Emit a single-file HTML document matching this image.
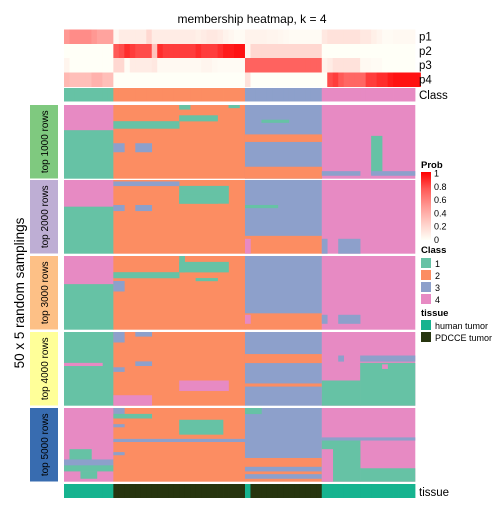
<!DOCTYPE html>
<html><head><meta charset="utf-8">
<style>
body{margin:0;background:#fff;font-family:"Liberation Sans",sans-serif;}
svg text{font-family:"Liberation Sans",sans-serif;}
</style></head>
<body>
<svg id="chart" width="504" height="504" xmlns="http://www.w3.org/2000/svg">
<text x="252" y="23" font-size="12" text-anchor="middle">membership heatmap, k = 4</text>
<g id="topg"></g><g id="blocks"></g><g id="legend"></g>
</svg>
<script>
// ---- data ----
const classColors = {1:"#66C2A5",2:"#FC8D62",3:"#8DA0CB",4:"#E78AC3"};
const colClass = [1,1,1,1,1,1,1,1,1, 2,2,2,2,2,2,2,2,2,2,2,2,2,2,2,2,2,2,2,2,2,2,2,2, 3,3,3,3,3,3,3,3,3,3,3,3,3,3, 4,4,4,4,4,4,4,4,4,4,4,4,4,4,4,4,4];
const p1 = [0.5,0.55,0.55,0.55,0.55,0.5,0.45,0.45,0.45, 0.04,0.1,0.1,0.1,0.1,0.1,0.2,0.1,0.1,0.1,0.1,0.1,0.1,0.1,0.1,0.08,0.1,0.12,0.12,0.1,0.06,0.04,0.02,0.02, 0.06,0.06,0.06,0.06,0.05,0.05,0.04,0.03,0.02,0.02,0.02,0.02,0.02,0.02, 0.12,0.15,0.15,0.15,0.15,0.15,0.15,0.12,0.12,0.08,0.05,0.02,0.02,0.03,0.03,0.03,0.03];
const p2 = [0,0,0,0,0,0,0,0,0, 0.75,0.8,0.9,0.85,0.8,0.8,0.8,0.3,0.9,0.85,0.85,0.85,0.85,0.85,0.85,0.9,0.85,0.85,0.85,0.9,0.95,0.95,0.97,0.97, 0.05,0.2,0.2,0.2,0.2,0.2,0.2,0.2,0.2,0.2,0.2,0.2,0.2,0.2, 0,0,0,0,0,0,0,0,0,0,0,0,0,0,0,0,0];
const p3 = [0.05,0,0,0,0,0,0,0,0, 0.2,0.2,0.02,0.1,0.1,0.1,0.1,0.12,0.03,0.03,0.03,0.03,0.03,0.03,0.03,0.03,0.05,0.05,0.03,0.02,0.02,0.02,0.02,0.02, 0.72,0.72,0.72,0.72,0.72,0.72,0.72,0.72,0.72,0.72,0.72,0.72,0.72,0.72, 0.06,0.1,0.15,0.15,0.15,0.15,0.15,0.03,0.03,0.02,0.02,0,0,0,0,0,0];
const p4 = [0.35,0.32,0.32,0.32,0.32,0.38,0.38,0.32,0.32, 0,0,0,0,0,0,0,0,0,0,0,0,0,0,0,0,0,0,0,0,0,0,0,0, 0.15,0,0,0,0,0,0,0,0,0,0,0,0,0,0, 0.8,0.85,0.75,0.7,0.7,0.7,0.7,0.85,0.85,0.9,0.9,0.95,0.97,0.97,0.97,0.97,0.97];
const tissue = [1,1,1,1,1,1,1,1,1, 2,2,2,2,2,2,2,2,2,2,2,2,2,2,2,2,2,2,2,2,2,2,2,2, 1,2,2,2,2,2,2,2,2,2,2,2,2,2, 1,1,1,1,1,1,1,1,1,1,1,1,1,1,1,1,1];
const blockLabels = ["top 1000 rows","top 2000 rows","top 3000 rows","top 4000 rows","top 5000 rows"];
const blockColors = ["#7FC97F","#BEAED4","#FDC086","#FFFF99","#386CB0"];
// patches: [colStart, colEnd, rowStart, rowEnd, class] (inclusive, 64 cols x 50 rows)
const block1 = [[0,8,0,49,1],[0,8,0,16,4],[9,32,0,49,2],[33,46,0,49,3],[47,63,0,49,4],
 [33,46,20,24,2],[33,46,42,49,2],[9,20,11,15,1],[21,27,7,10,1],[9,10,26,31,3],[13,15,26,31,3],[21,22,0,2,1],[30,31,0,1,1],[47,53,45,47,3],[56,57,21,46,1],[56,63,45,47,3],[36,40,10,11,1]];
const block2 = [[0,8,0,49,1],[0,8,0,17,4],[9,32,0,49,2],[33,46,0,37,3],[33,46,38,49,2],[47,63,0,49,4],
 [9,20,1,3,3],[21,29,4,15,1],[21,27,10,15,1],[9,10,17,20,3],[13,15,17,20,3],[33,38,17,18,1],[47,47,40,49,3],[50,53,40,49,3],[33,33,40,49,4]];
const block3 = [[0,8,0,49,1],[0,8,0,18,4],[9,32,0,49,2],[33,46,0,38,3],[33,46,39,49,2],[47,63,0,49,4],
 [9,20,11,14,1],[9,10,17,23,3],[21,29,4,10,1],[24,27,15,16,1],[47,47,40,45,3],[50,53,40,45,3],[33,33,40,45,4],[21,21,0,10,1]];
const block4 = [[0,8,0,49,1],[0,6,21,22,4],[9,32,0,49,2],[9,10,0,6,3],[13,15,0,2,3],[21,29,33,39,4],[9,10,24,26,3],[13,15,20,22,3],[9,15,43,49,4],
 [33,46,0,49,3],[33,46,15,20,2],[33,46,35,36,2],[47,63,0,49,4],[54,63,16,19,3],[54,63,21,49,1],[47,53,33,49,1],[50,50,16,19,3],[58,58,22,24,4]];
const block5 = [[0,8,0,49,4],[1,4,28,35,1],[0,8,35,38,3],[0,8,39,42,1],[3,5,43,47,1],[9,32,0,49,2],[9,10,0,3,3],[9,15,4,6,1],[21,28,8,17,1],[9,10,11,12,3],[9,32,21,22,3],[9,10,30,31,3],
 [33,46,0,33,3],[33,46,34,49,2],[33,46,40,42,3],[33,46,45,47,3],[33,35,0,3,1],[47,63,0,49,4],[47,53,21,49,1],[47,48,28,49,4],[54,63,41,49,1],[47,63,20,21,3]];
const blocks = [block1,block2,block3,block4,block5];
// ---- scales ----
const X0=64, X1=415, NC=colClass.length, NR=50;
const cw=(X1-X0)/NC;
const xs=c=>X0+c*cw;
const blockY=[105,180,256,332,408], blockH=73.5;
const ys=(b,r)=>blockY[b]+r*blockH/NR;
const NS="http://www.w3.org/2000/svg";
function mk(tag,attrs,parent){const e=document.createElementNS(NS,tag);for(const k in attrs)e.setAttribute(k,attrs[k]);parent.appendChild(e);return e;}
function probColor(p){const t=Math.pow(1-p,0.75);const g=Math.round(255*t),b=Math.round(255*t*0.97);return `rgb(255,${Math.min(255,g)},${Math.min(255,b)})`;}
const topG=document.getElementById('topg');
const probs=[p1,p2,p3,p4], pY=[29.5,44,58,72.5];
probs.forEach((arr,i)=>{
  arr.forEach((v,c)=>{
    const r=mk('rect',{x:xs(c),y:pY[i],width:cw+0.4,height:14.5,fill:probColor(v)},topG);
    
    
  });
  const tt=mk('text',{x:419,y:pY[i]+11,'font-size':11.5},topG);tt.textContent='p'+(i+1);
  
  
});
colClass.forEach((k,c)=>{
  const r=mk('rect',{x:xs(c),y:88,width:cw+0.4,height:13.5,fill:classColors[k]},topG);
  
  
});
let t1=mk('text',{x:419,y:99,'font-size':11.5},topG);t1.textContent='Class';


tissue.forEach((k,c)=>{
  const r=mk('rect',{x:xs(c),y:484,width:cw+0.4,height:14,fill:k==1?"#16B38F":"#27350F"},topG);
  
  
});
t1=mk('text',{x:419,y:496,'font-size':11.5},topG);t1.textContent='tissue';


const bg=document.getElementById('blocks');
blocks.forEach((patches,b)=>{
  patches.forEach(p=>{
    const r=mk('rect',{x:xs(p[0]),y:ys(b,p[2]),width:xs(p[1]+1)-xs(p[0])+0.3,height:ys(b,p[3]+1)-ys(b,p[2])+0.2,fill:classColors[p[4]]},bg);
    
    
  });
  const lb=mk('rect',{x:30,y:blockY[b],width:28,height:blockH,fill:blockColors[b]},bg);
  
  
  const cy=blockY[b]+blockH/2;
  const lt=mk('text',{x:0,y:0,'font-size':10,'text-anchor':'middle',transform:`translate(48,${cy}) rotate(-90)`},bg);
  lt.textContent=blockLabels[b];
  
  
});
const big=mk('text',{x:0,y:0,'font-size':13.5,'text-anchor':'middle',transform:'translate(24,293) rotate(-90)'},bg);
big.textContent='50 x 5 random samplings';


// legend
const lg=document.getElementById('legend');
function txt(x,y,s,size,bold,name){const e=mk('text',{x:x,y:y,'font-size':size,'font-weight':bold?'bold':'normal'},lg);e.textContent=s;return e;}
txt(421,168,'Prob',9.5,true,'prob-legend-title');
const defs=mk('defs',{},lg);
const gr=mk('linearGradient',{id:'pg',x1:0,y1:1,x2:0,y2:0},defs);
[0,0.25,0.5,0.75,1].forEach(o=>mk('stop',{offset:o,'stop-color':probColor(o)},gr));
const gb=mk('rect',{x:421,y:172,width:10,height:68,fill:'url(#pg)'},lg);


['0','0.2','0.4','0.6','0.8','1'].forEach((s,i)=>txt(434,243-i*13.3,s,9,false,'prob-tick'));
txt(421,253,'Class',9.5,true,'class-legend-title');
[1,2,3,4].forEach((k,i)=>{
  const r=mk('rect',{x:421,y:258+i*12,width:10,height:10,fill:classColors[k]},lg);
  
  
  txt(435,267+i*12,String(k),9,false,'class-legend-label');
});
txt(421,316,'tissue',9.5,true,'tissue-legend-title');
[["#16B38F","human tumor"],["#27350F","PDCCE tumor"]].forEach((d,i)=>{
  const r=mk('rect',{x:421,y:320+i*12,width:10,height:10,fill:d[0]},lg);
  
  
  txt(435,329+i*12,d[1],9,false,'tissue-legend-label');
});
</script>
</body></html>
